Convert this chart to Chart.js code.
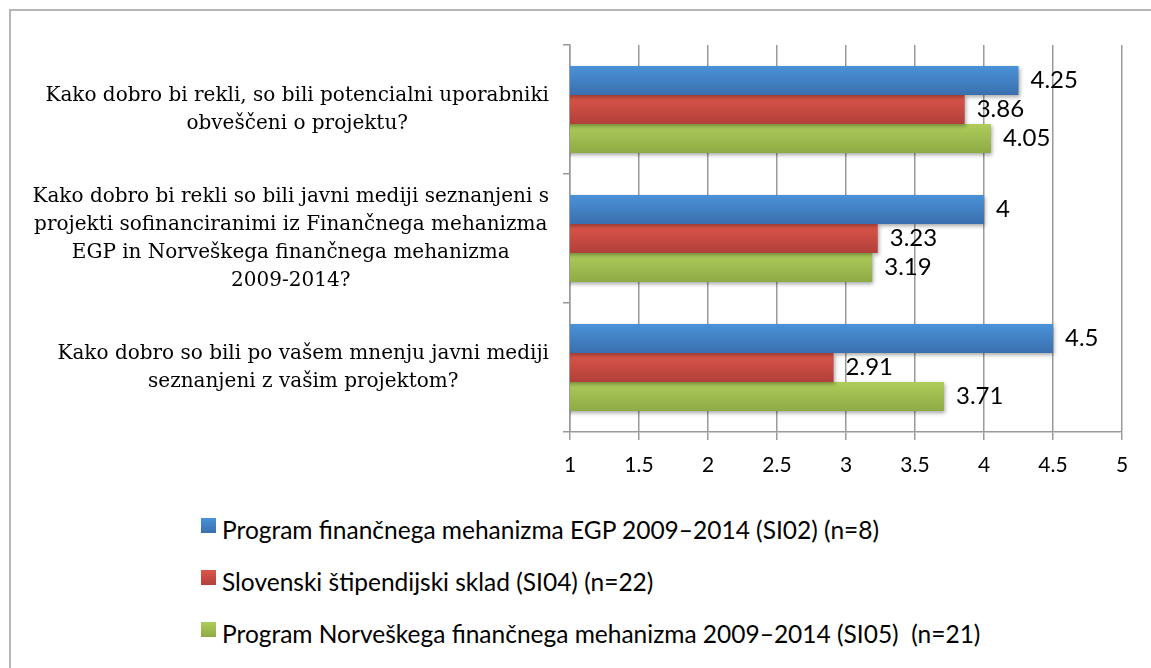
<!DOCTYPE html>
<html>
<head>
<meta charset="utf-8">
<script src="https://cdn.jsdelivr.net/npm/chart.js@4/dist/chart.umd.min.js"></script>
<style>
    body { margin: 0; background: #fff; width: 1151px; height: 668px; overflow: hidden; position: relative; }
    #frame { position: absolute; left: 9px; top: 9px; width: 1200px; height: 700px; border-left: 2px solid #b5b5b5; border-top: 2px solid #b5b5b5; }
    #chartBox { position: absolute; left: 0; top: 0; width: 1151px; height: 490px; }
    #legend { position: absolute; left: 201px; top: 503px; font-family: Lato, sans-serif; font-size: 24.5px; color: #000; }
    .item { display: flex; align-items: center; height: 52px; }
    .item span.name { white-space: pre; }
    .box { width: 15px; height: 15px; margin-right: 6px; position: relative; top: -4px; }
</style>
</head>
<body>
<div id="frame"></div>
<div id="chartBox"><canvas id="barChart"></canvas></div>
<div id="legend"></div>
<script>
// Chart data
const categories = [
    ['Kako dobro bi rekli, so bili potencialni uporabniki', 'obveščeni o projektu?'],
    ['Kako dobro bi rekli so bili javni mediji seznanjeni s', 'projekti sofinanciranimi iz Finančnega mehanizma', 'EGP in Norveškega finančnega mehanizma', '2009-2014?'],
    ['Kako dobro so bili po vašem mnenju javni mediji', 'seznanjeni z vašim projektom?']
];
const seriesNames = [
    'Program finančnega mehanizma EGP 2009–2014 (SI02) (n=8)',
    'Slovenski štipendijski sklad (SI04) (n=22)',
    'Program Norveškega finančnega mehanizma 2009–2014 (SI05)  (n=21)'
];
const egpValues = [4.25, 4, 4.5];
const skladValues = [3.86, 3.23, 2.91];
const norwayValues = [4.05, 3.19, 3.71];
const xTickValues = [1, 1.5, 2, 2.5, 3, 3.5, 4, 4.5, 5];

// Bar colours (top -> bottom of each bar)
const gradients = [
    ['#4a92d8', '#3a6fae'],
    ['#dc5549', '#b1403a'],
    ['#aecd5a', '#8eaa45']
];
const flatColors = ['#4283c8', '#c94a42', '#9fbe50'];

const sansFont = { family: 'Lato', size: 21 };

// Gradient fill + soft shadow on bars
const barStyle = {
    id: 'barStyle',
    beforeDatasetDraw(chart, args) {
        const ctx = chart.ctx;
        const stops = gradients[args.index];
        args.meta.data.forEach(bar => {
            const g = ctx.createLinearGradient(0, bar.y - bar.height / 2, 0, bar.y + bar.height / 2);
            g.addColorStop(0, stops[0]);
            g.addColorStop(1, stops[1]);
            bar.options.backgroundColor = g;
        });
        ctx.save();
        ctx.shadowColor = 'rgba(0,0,0,0.35)';
        ctx.shadowBlur = 4;
        ctx.shadowOffsetX = 1;
        ctx.shadowOffsetY = 2;
    },
    afterDatasetDraw(chart) {
        chart.ctx.restore();
    }
};

// Value labels at bar ends
const valueLabels = {
    id: 'valueLabels',
    afterDatasetsDraw(chart) {
        const ctx = chart.ctx;
        ctx.save();
        ctx.font = '24px Lato';
        ctx.fillStyle = '#000';
        ctx.textAlign = 'left';
        ctx.textBaseline = 'middle';
        chart.data.datasets.forEach((ds, i) => {
            chart.getDatasetMeta(i).data.forEach((bar, j) => {
                ctx.fillText(String(ds.data[j]), bar.x + 12, bar.y);
            });
        });
        ctx.restore();
    }
};

// Category labels: each block centred on its own widest line, right edge next to the ticks
const categoryLabels = {
    id: 'categoryLabels',
    afterDraw(chart) {
        const yScale = chart.scales.y;
        const ctx = chart.ctx;
        ctx.save();
        ctx.font = '20px "DejaVu Serif"';
        ctx.fillStyle = '#000';
        ctx.textAlign = 'center';
        ctx.textBaseline = 'middle';
        const right = yScale.right - 7 - 14;
        chart.data.labels.forEach((lines, i) => {
            const w = Math.max(...lines.map(l => ctx.measureText(l).width));
            const cy = yScale.getPixelForValue(i);
            lines.forEach((l, k) => {
                ctx.fillText(l, right - w / 2, cy + (k - (lines.length - 1) / 2) * 28);
            });
        });
        ctx.restore();
    }
};

const values = [egpValues, skladValues, norwayValues];
const ctx = document.getElementById('barChart').getContext('2d');
const barChart = new Chart(ctx, {
    type: 'bar',
    data: {
        labels: categories,
        datasets: values.map((v, i) => ({
            label: seriesNames[i],
            data: v,
            backgroundColor: () => flatColors[i],
            borderWidth: 0,
            categoryPercentage: 0.675,
            barPercentage: 1
        }))
    },
    options: {
        indexAxis: 'y',
        responsive: true,
        maintainAspectRatio: false,
        animation: false,
        events: [],
        layout: { padding: { top: 45, right: 29, bottom: 0, left: 0 } },
        plugins: {
            legend: { display: false },
            tooltip: { enabled: false }
        },
        scales: {
            x: {
                min: 1,
                max: 5,
                afterBuildTicks: scale => {
                    scale.ticks = xTickValues.map(v => ({ value: v }));
                },
                afterFit: scale => { scale.height = 58; },
                grid: { color: '#9a9a9a', lineWidth: 1.5, tickLength: 8 },
                border: { color: '#9a9a9a', width: 1.5 },
                ticks: { color: '#000', font: sansFont, padding: 13, maxRotation: 0, callback: v => String(v) }
            },
            y: {
                afterFit: scale => { scale.width = 570; },
                grid: { drawOnChartArea: false, offset: true, color: '#9a9a9a', lineWidth: 1.5, tickLength: 7 },
                border: { color: '#9a9a9a', width: 1.5 },
                ticks: { display: false }
            }
        }
    },
    plugins: [barStyle, valueLabels, categoryLabels]
});

// HTML legend
document.getElementById('legend').innerHTML = seriesNames.map((name, i) =>
    `<div class="item"><span class="box" style="background: linear-gradient(${gradients[i][0]}, ${gradients[i][1]});"></span><span class="name">${name}</span></div>`
).join('');
</script>
</body>
</html>
